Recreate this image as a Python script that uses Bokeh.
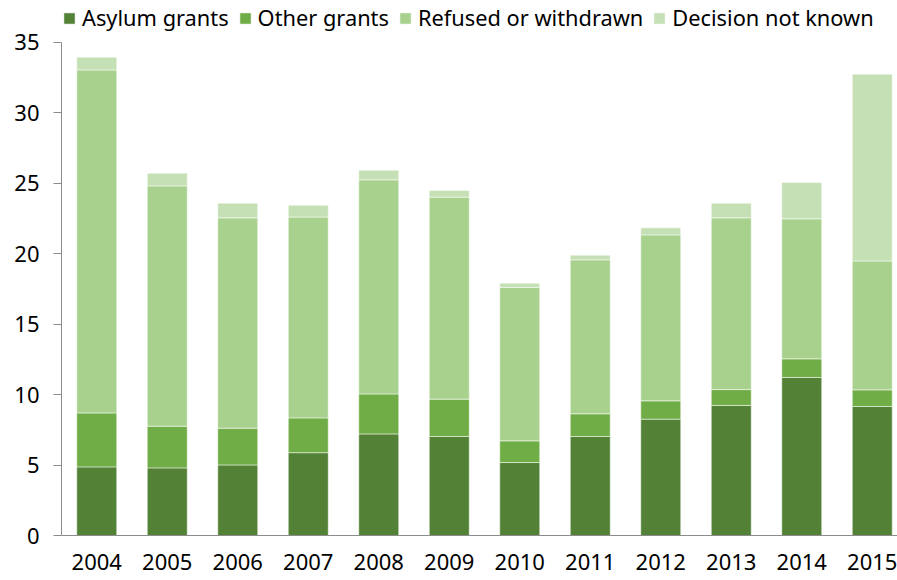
from bokeh.plotting import figure
from bokeh.models import ColumnDataSource, Range1d, FixedTicker, Legend, LegendItem
from bokeh.embed import file_html
from bokeh.resources import INLINE

years = ["2004", "2005", "2006", "2007", "2008", "2009", "2010", "2011", "2012", "2013", "2014", "2015"]
asylum = [4.87, 4.80, 5.01, 5.88, 7.21, 7.03, 5.18, 7.03, 8.26, 9.23, 11.22, 9.16]
other = [3.83, 2.96, 2.61, 2.47, 2.84, 2.65, 1.54, 1.61, 1.30, 1.13, 1.32, 1.18]
refused = [24.35, 17.06, 14.93, 14.26, 15.20, 14.34, 10.89, 10.93, 11.78, 12.19, 9.94, 9.15]
unknown = [0.91, 0.90, 1.04, 0.84, 0.68, 0.47, 0.30, 0.33, 0.50, 1.04, 2.58, 13.26]
y_ticks = [0, 5, 10, 15, 20, 25, 30, 35]

series = ["asylum", "other", "refused", "unknown"]
labels = ["Asylum grants", "Other grants", "Refused or withdrawn", "Decision not known"]
colors = ["#538135", "#70AD47", "#A9D18E", "#C5E0B4"]

src = ColumnDataSource(dict(x=list(range(len(years))), asylum=asylum, other=other,
                            refused=refused, unknown=unknown))

FONT = "Noto Sans"

p = figure(width=897, height=580, output_backend="svg", toolbar_location=None,
           x_range=Range1d(-0.5, 11.358), y_range=Range1d(0, 37.98),
           min_border_left=61, min_border_right=0, min_border_top=0, min_border_bottom=45)
p.outline_line_color = None
p.grid.visible = False
p.background_fill_color = "white"
p.border_fill_color = "white"

rs = p.vbar_stack(series, x="x", width=0.567, source=src, color=colors,
                  line_color="white", line_width=1, line_alpha=0.5)

p.xaxis.ticker = FixedTicker(ticks=list(range(len(years))))
p.xaxis.major_label_overrides = {i: y for i, y in enumerate(years)}
p.xaxis.major_tick_line_color = None
p.xaxis.minor_tick_line_color = None
p.xaxis.axis_line_color = "#8c8c8c"
p.xaxis.major_label_standoff = 12
p.xaxis.major_label_text_font = FONT
p.xaxis.major_label_text_font_size = "22px"
p.xaxis.major_label_text_color = "black"

p.yaxis.ticker = FixedTicker(ticks=y_ticks)
p.yaxis.bounds = (0, 35)
p.yaxis.minor_tick_line_color = None
p.yaxis.major_tick_in = 0
p.yaxis.major_tick_out = 8
p.yaxis.major_tick_line_color = "#8c8c8c"
p.yaxis.axis_line_color = "#8c8c8c"
p.yaxis.major_label_standoff = 14
p.yaxis.major_label_text_font = FONT
p.yaxis.major_label_text_font_size = "22px"
p.yaxis.major_label_text_color = "black"

legend = Legend(items=[LegendItem(label=l, renderers=[r]) for l, r in zip(labels, rs)],
                orientation="horizontal", location=(1, 503),
                glyph_width=14, glyph_height=14, label_standoff=6, spacing=9,
                padding=0, margin=0, border_line_alpha=0, background_fill_alpha=0,
                label_text_font=FONT, label_text_font_size="21.8px",
                label_text_color="black", label_height=20)
p.add_layout(legend)

open("out.html", "w").write(file_html(p, INLINE))
